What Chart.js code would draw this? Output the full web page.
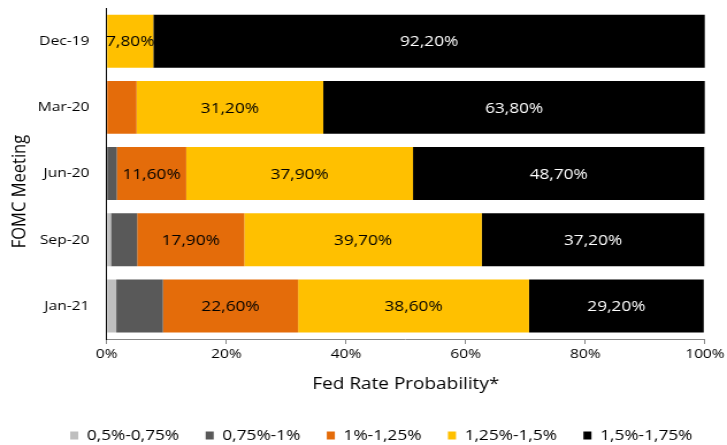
<!DOCTYPE html>
<html><head><meta charset="utf-8">
<script src="https://cdn.jsdelivr.net/npm/chart.js@4/dist/chart.umd.min.js"></script>
<style>
html,body{margin:0;padding:0;background:#fff;overflow:hidden}
#wrap{width:632px;height:445px;transform:scaleX(1.1503);transform-origin:0 0}
</style>
</head><body><div id="wrap"><canvas id="c"></canvas></div>
<script>
const categories = ["Dec-19", "Mar-20", "Jun-20", "Sep-20", "Jan-21"];
const seriesNames = ["0,5%-0,75%", "0,75%-1%", "1%-1,25%", "1,25%-1,5%", "1,5%-1,75%"];
const s050_075 = [0, 0, 0, 0.7, 1.6];
const s075_100 = [0, 0, 1.7, 4.4, 7.8];
const s100_125 = [0, 5.0, 11.6, 17.9, 22.6];
const s125_150 = [7.8, 31.2, 37.9, 39.7, 38.6];
const s150_175 = [92.2, 63.8, 48.7, 37.2, 29.2];
const xTicks = [0, 20, 40, 60, 80, 100];
const yTitle = "FOMC Meeting";
const xTitle = "Fed Rate Probability*";
const colors = ["#bfbfbf", "#595959", "#e46c0a", "#ffc000", "#000000"];
const labelColors = ["#000", "#fff", "#000", "#000", "#fff"];
const labelledSeries = [false, false, true, true, true];
const showMin = 7;

const allSeries = [s050_075, s075_100, s100_125, s125_150, s150_175];
const FONT = "'Open Sans', 'Liberation Sans', sans-serif";
const TITLE_SIZE = 16.5;

const labelPlugin = {
  id: 'barLabels',
  afterLayout(chart) {
    const lg = chart.legend;
    const shift = 61 - (lg.left + lg.options.labels.padding);
    lg.left += shift; lg.right += shift;
  },
  afterDraw(chart) {
    // y-axis title, placed slightly below the plot centre as in the reference
    const ctx = chart.ctx, ys = chart.scales.y, ca = chart.chartArea;
    ctx.save();
    ctx.font = TITLE_SIZE + "px " + FONT;
    ctx.fillStyle = '#000';
    ctx.textAlign = 'center';
    ctx.textBaseline = 'middle';
    ctx.translate(ys.left + TITLE_SIZE * 0.6, (ca.top + ca.bottom) / 2 + 18);
    ctx.rotate(-Math.PI / 2);
    ctx.fillText(yTitle, 0, 0);
    ctx.restore();
  },
  afterDatasetsDraw(chart) {
    const ctx = chart.ctx;
    ctx.save();
    ctx.font = "15px " + FONT;
    ctx.textAlign = 'center';
    ctx.textBaseline = 'middle';
    chart.data.datasets.forEach((ds, i) => {
      if (!labelledSeries[i]) return;
      const meta = chart.getDatasetMeta(i);
      meta.data.forEach((bar, j) => {
        const v = ds.data[j];
        if (v < showMin) return;
        const cx = (bar.x + bar.base) / 2;
        ctx.fillStyle = labelColors[i];
        ctx.fillText(v.toFixed(2).replace('.', ',') + '%', cx, bar.y + 1);
      });
    });
    ctx.restore();
  }
};

new Chart(document.getElementById('c'), {
  type: 'bar',
  data: {
    labels: categories,
    datasets: allSeries.map((d, i) => ({
      label: seriesNames[i],
      data: d,
      backgroundColor: colors[i],
      borderWidth: 0,
      barPercentage: 0.8,
      categoryPercentage: 1.0
    }))
  },
  options: {
    indexAxis: 'y',
    responsive: true,
    maintainAspectRatio: false,
    animation: false,
    layout: { padding: { left: 7, right: 14, top: 0, bottom: -8 } },
    plugins: {
      legend: {
        position: 'bottom',
        align: 'start',
        labels: {
          font: { family: FONT, size: 15 },
          color: '#000',
          boxWidth: 7, boxHeight: 8,
          padding: 23
        }
      },
      tooltip: { enabled: false }
    },
    scales: {
      x: {
        stacked: true,
        min: 0, max: 100,
        afterBuildTicks(axis) { axis.ticks = xTicks.map(v => ({ value: v })); },
        ticks: {
          callback: v => v + '%',
          font: { family: FONT, size: 13.5 },
          color: '#000',
          padding: 2
        },
        grid: { drawOnChartArea: false, drawTicks: true, tickLength: 5, color: '#888' },
        border: { display: true, color: '#888' },
        title: {
          display: true, text: xTitle,
          font: { family: FONT, size: TITLE_SIZE }, color: '#000',
          padding: { top: 10, bottom: 11 }
        }
      },
      y: {
        stacked: true,
        ticks: { font: { family: FONT, size: 13.5 }, color: '#000', padding: 0 },
        grid: { display: true, drawOnChartArea: false, drawTicks: true, tickLength: 15, color: 'rgba(0,0,0,0)' },
        border: { display: true, color: '#000' },
        title: {
          display: true, text: yTitle,
          font: { family: FONT, size: TITLE_SIZE }, color: 'rgba(0,0,0,0)',
          padding: { top: 0, bottom: 6 }
        }
      }
    }
  },
  plugins: [labelPlugin]
});
</script></body></html>
